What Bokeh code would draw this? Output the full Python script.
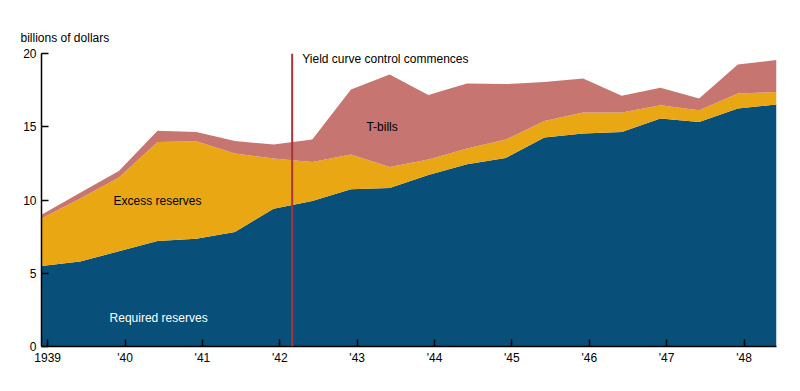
from bokeh.plotting import figure
from bokeh.models import ColumnDataSource, Range1d, FixedTicker, Label, Span
from bokeh.embed import file_html
from bokeh.resources import INLINE

# half-year observations (decimal years)
years = [1938.92, 1939.42, 1939.92, 1940.42, 1940.92, 1941.42, 1941.92, 1942.42,
         1942.92, 1943.42, 1943.92, 1944.42, 1944.92, 1945.42, 1945.92, 1946.42,
         1946.92, 1947.42, 1947.92, 1948.42]
required = [5.49, 5.80, 6.50, 7.20, 7.36, 7.81, 9.41, 9.93, 10.73, 10.82,
            11.70, 12.44, 12.87, 14.26, 14.54, 14.65, 15.56, 15.33, 16.25, 16.52]
excess = [3.24, 4.30, 5.03, 6.76, 6.65, 5.36, 3.42, 2.67, 2.37, 1.44,
          1.06, 1.07, 1.26, 1.14, 1.43, 1.32, 0.91, 0.80, 1.02, 0.86]
tbills = [0.27, 0.40, 0.45, 0.76, 0.64, 0.86, 0.95, 1.53, 4.45, 6.31,
          4.40, 4.45, 3.78, 2.65, 2.33, 1.14, 1.19, 0.80, 1.98, 2.17]

tick_years = [1939, 1940, 1941, 1942, 1943, 1944, 1945, 1946, 1947, 1948]
tick_labels = ["1939", "'40", "'41", "'42", "'43", "'44", "'45", "'46", "'47", "'48"]
y_ticks = [0, 5, 10, 15, 20]
ycc_start = 1942.16

BLUE = "#084F7A"
GOLD = "#E9A713"
PINK = "#C67570"
RED = "#A9353A"
FONT = "Liberation Sans"

src = ColumnDataSource(dict(x=years, required=required, excess=excess, tbills=tbills))

p = figure(width=792, height=385, output_backend="svg", toolbar_location=None,
           x_range=Range1d(years[0], years[-1]), y_range=Range1d(0, 20),
           min_border_left=41, min_border_right=16, min_border_top=53,
           min_border_bottom=39)
p.outline_line_color = None
p.grid.visible = False
p.background_fill_color = "white"

p.title.text = "billions of dollars"
p.title.align = "left"
p.title.offset = -21
p.title.text_font = FONT
p.title.text_font_size = "12px"
p.title.text_font_style = "normal"
p.title.text_color = "black"
p.title.standoff = 17

p.varea_stack(["required", "excess", "tbills"], x="x", source=src,
              color=[BLUE, GOLD, PINK])

p.add_layout(Span(location=ycc_start, dimension="height", line_color=RED, line_width=2))

# axes
for ax in (p.xaxis[0], p.yaxis[0]):
    ax.axis_line_color = "black"
    ax.axis_line_width = 1.5
    ax.major_tick_in = 7
    ax.major_tick_out = 0
    ax.major_tick_line_color = "black"
    ax.major_tick_line_width = 1.5
    ax.minor_tick_line_color = None
    ax.major_label_text_font = FONT
    ax.major_label_text_font_size = "12px"
    ax.major_label_text_color = "black"

p.xaxis.ticker = FixedTicker(ticks=tick_years)
p.xaxis.major_label_overrides = {y: l for y, l in zip(tick_years, tick_labels)}
p.xaxis.major_label_standoff = 4
p.yaxis.ticker = FixedTicker(ticks=y_ticks)
p.yaxis.major_label_standoff = 5

def lab(x, y, text, color="black", baseline="middle"):
    p.add_layout(Label(x=x, y=y, text=text, text_font=FONT, text_font_size="12px",
                       text_color=color, text_baseline=baseline, text_align="left"))

lab(1942.29, 19.6, "Yield curve control commences")
lab(1943.12, 14.95, "T-bills")
lab(1939.85, 9.93, "Excess reserves")
lab(1939.80, 1.94, "Required reserves", color="white")

open("out.html", "w").write(file_html(p, INLINE))
